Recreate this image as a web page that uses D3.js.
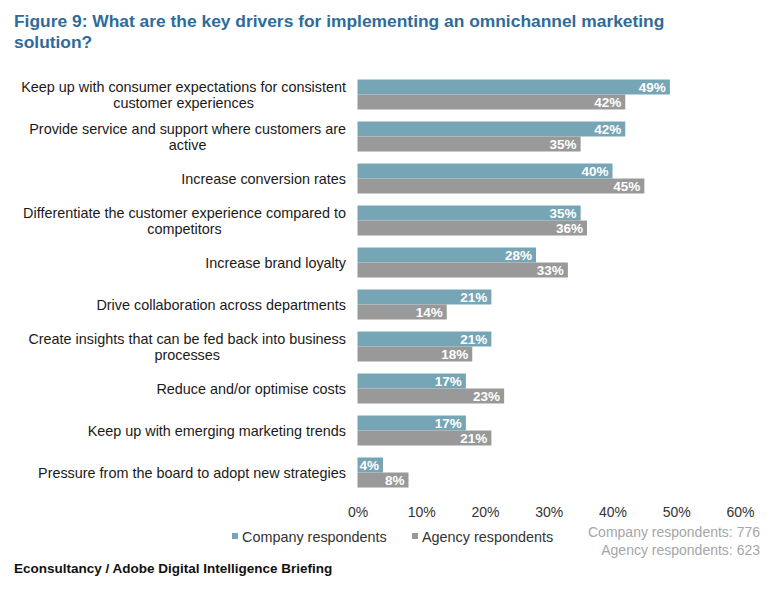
<!DOCTYPE html>
<html><head><meta charset="utf-8">
<script src="https://cdn.jsdelivr.net/npm/d3@7"></script>
<style>body{margin:0;background:#fff;font-family:"Liberation Sans",Arial,sans-serif}</style>
</head><body>
<svg id="c" width="780" height="591"></svg>
<script>
const categories = [
  ["Keep up with consumer expectations for consistent","customer experiences"],
  ["Provide service and support where customers are","active"],
  ["Increase conversion rates"],
  ["Differentiate the customer experience compared to","competitors"],
  ["Increase brand loyalty"],
  ["Drive collaboration across departments"],
  ["Create insights that can be fed back into business","processes"],
  ["Reduce and/or optimise costs"],
  ["Keep up with emerging marketing trends"],
  ["Pressure from the board to adopt new strategies"]
];
const companyValues = [49,42,40,35,28,21,21,17,17,4];
const agencyValues  = [42,35,45,36,33,14,18,23,21,8];
const seriesNames = ["Company respondents","Agency respondents"];
const tickValues = [0,10,20,30,40,50,60];
const title = ["Figure 9: What are the key drivers for implementing an omnichannel marketing","solution?"];
const sampleNotes = ["Company respondents: 776","Agency respondents: 623"];
const source = "Econsultancy / Adobe Digital Intelligence Briefing";

const colors = ["#76a5b5","#999999"];
const svg = d3.select("#c");

const x = d3.scaleLinear().domain([0,60]).range([357.5,740]);
const y = d3.scaleBand().domain(d3.range(categories.length)).range([73.5,493.5]).paddingInner(12/42).paddingOuter(6/42);
const sub = d3.scaleBand().domain([0,1]).range([0,y.bandwidth()]);

// title
svg.append("g").selectAll("text").data(title).join("text")
  .attr("x",14).attr("y",(d,i)=>27+i*21)
  .attr("fill","#2f6b9a").attr("font-weight","bold").attr("font-size","17.4px")
  .text(d=>d);

// category labels: block right-aligned at 346, lines centered within block
const labelRight = 346;
const lab = svg.append("g").selectAll("text").data(categories).join("text")
  .attr("text-anchor","middle").attr("font-size","14.4px").attr("fill","#1a1a1a");
lab.each(function(d,i){
  const t=d3.select(this);
  const cy=y(i)+y.bandwidth()/2;
  const n=d.length;
  const spans=d.map((line,j)=>t.append("tspan").attr("y",cy+5+(j-(n-1)/2)*16).text(line));
  const maxW=d3.max(spans,s=>s.node().getComputedTextLength());
  spans.forEach(s=>s.attr("x",labelRight-maxW/2));
});

const series=[companyValues,agencyValues];
series.forEach((vals,s)=>{
  const g=svg.append("g");
  g.selectAll("rect").data(vals).join("rect")
    .attr("x",x(0)).attr("y",(d,i)=>y(i)+sub(s))
    .attr("width",d=>x(d)-x(0)).attr("height",sub.bandwidth())
    .attr("fill",colors[s]);
  g.selectAll("text").data(vals).join("text")
    .attr("x",d=>x(d)-4).attr("y",(d,i)=>y(i)+sub(s)+sub.bandwidth()/2+5)
    .attr("text-anchor","end").attr("fill","#fff").attr("font-weight","bold").attr("font-size","13.5px")
    .text(d=>d+"%");
});

// axis
const ax=svg.append("g").attr("transform","translate(0,501)")
  .call(d3.axisBottom(x).tickValues(tickValues).tickFormat(d=>d+"%").tickSize(0).tickPadding(6));
ax.select(".domain").remove();
ax.selectAll("text").attr("font-size","14px").attr("fill","#333").attr("font-family","Liberation Sans, Arial, sans-serif");

// legend
const lg=svg.append("g");
const lx=[232,412];
seriesNames.forEach((n,i)=>{
  lg.append("rect").attr("x",lx[i]).attr("y",533).attr("width",6).attr("height",6).attr("fill",colors[i]);
  lg.append("text").attr("x",lx[i]+10).attr("y",542).attr("font-size","14.4px").attr("fill","#333").text(n);
});

// sample notes
svg.append("g").selectAll("text").data(sampleNotes).join("text")
  .attr("x",760).attr("y",(d,i)=>537+i*18).attr("text-anchor","end")
  .attr("font-size","14px").attr("fill","#a6a6a6").text(d=>d);

svg.append("text").attr("x",14).attr("y",573).attr("font-weight","bold").attr("font-size","13.5px")
  .attr("fill","#111").text(source);
</script>
</body></html>
